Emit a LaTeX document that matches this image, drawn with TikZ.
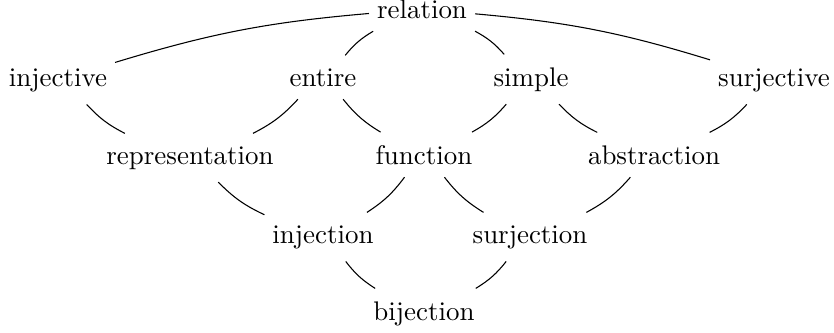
\documentclass[tikz,border=0pt]{standalone}
\usepackage{tikz}
\tikzset{
  kind/.style={anchor=base,inner xsep=2.8pt,inner ysep=4.6pt},
  leftlink/.style={bend right=10},
  rightlink/.style={bend left=10},
}
\begin{document}
\begin{tikzpicture}[x=0.013045cm,y=-0.013045cm]
\useasboundingbox (0,0) rectangle (834,332);
% top
\node[kind] (relation) at (422,18) {relation};
% first row
\node[kind] (injective) at (58,86) {injective};
\node[kind] (entire) at (323,86) {entire};
\node[kind] (simple) at (531,86) {simple};
\node[kind] (surjective) at (774,86) {surjective};
% second row
\node[kind] (representation) at (190,164) {representation};
\node[kind] (function) at (424,164) {function};
\node[kind] (abstraction) at (654,164) {abstraction};
% third row
\node[kind] (injection) at (323,243) {injection};
\node[kind] (surjection) at (530,243) {surjection};
% bottom
\node[kind] (bijection) at (424,320) {bijection};
% edges
\draw (relation) to[bend right=6] (injective);
\draw (relation) to[bend left=6] (surjective);
\draw (relation) to[leftlink] (entire);
\draw (relation) to[rightlink] (simple);
\foreach \a/\b in {injective/representation,entire/function,simple/abstraction,
  representation/injection,function/surjection,injection/bijection}
  \draw (\a) to[leftlink] (\b);
\foreach \a/\b in {entire/representation,simple/function,surjective/abstraction,
  function/injection,abstraction/surjection,surjection/bijection}
  \draw (\a) to[rightlink] (\b);
\end{tikzpicture}
\end{document}
